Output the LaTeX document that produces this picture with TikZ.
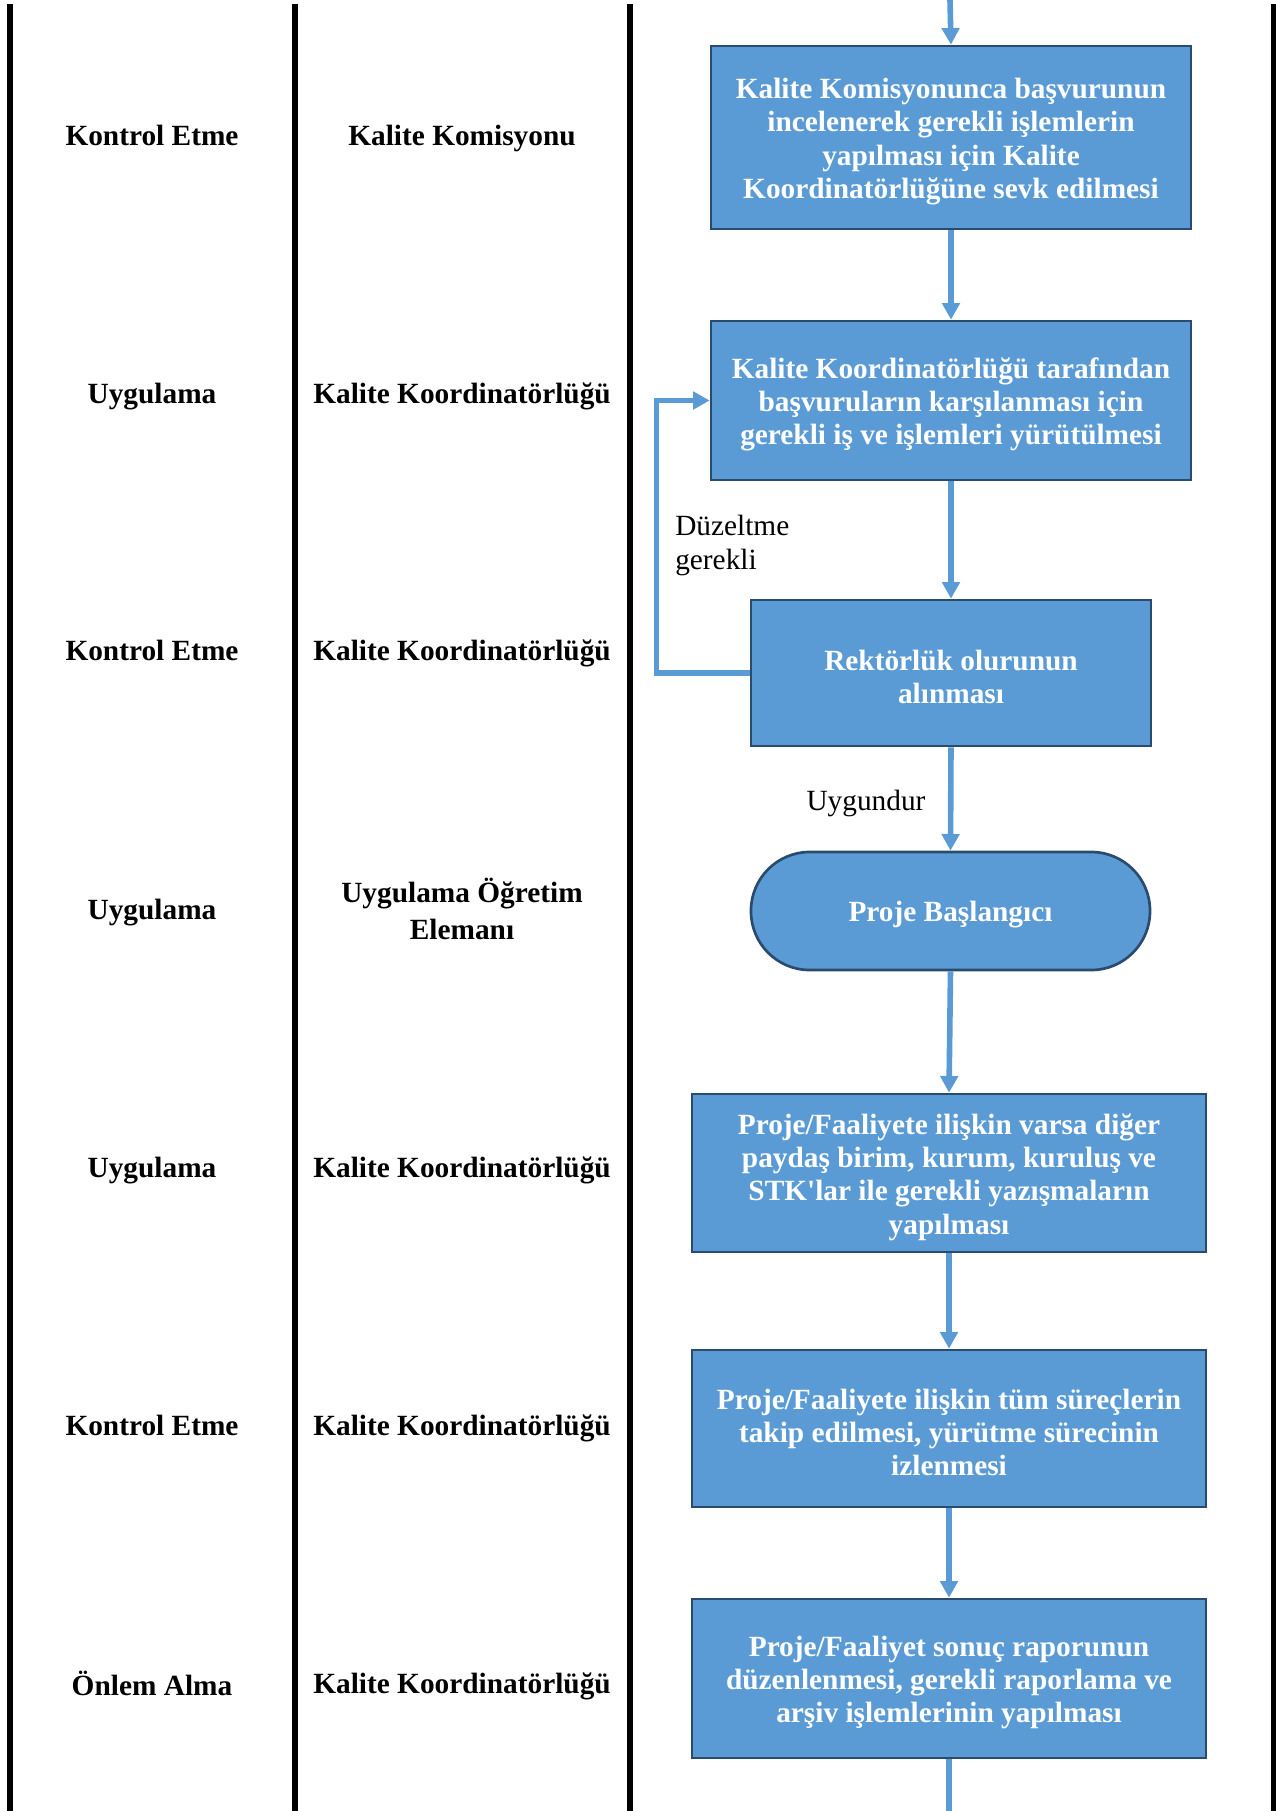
\documentclass[tikz,border=0pt]{standalone}
\usepackage{fontspec}
\setmainfont{Liberation Serif}
\usetikzlibrary{arrows.meta}
\definecolor{boxblue}{HTML}{5B9BD5}
\definecolor{boxedge}{HTML}{2A4A6E}
\begin{document}
\begin{tikzpicture}[x=0.75pt,y=-0.75pt,
  lane/.style={line width=4.5pt,black},
  procbox/.style={draw=boxedge,line width=2pt,fill=boxblue,inner sep=0pt},
  boxtext/.style={text=white,font=\fontsize{22}{25}\selectfont\bfseries,
    align=center,inner sep=0pt,yshift=-3pt},
  flow/.style={draw=boxblue,line width=4.2pt,-{Triangle[length=12.5pt,width=13pt]}},
  flowline/.style={draw=boxblue,line width=4.2pt},
  lbl/.style={font=\fontsize{22}{25}\selectfont\bfseries,align=center,
    text depth=0pt},
  elbl/.style={font=\fontsize{22}{25}\selectfont,align=left,inner sep=0pt}]
\useasboundingbox (0,0) rectangle (1276,1811);

% lane separators
\draw[lane] (10,4) -- (10,1811);
\draw[lane] (294.5,4) -- (294.5,1811);
\draw[lane] (629.5,4) -- (629.5,1811);
\draw[lane] (1273.5,4) -- (1273.5,1811);

% left column labels
\node[lbl] (s1) at (152,135) {Kontrol Etme};
\node[lbl] (s2) at (152,393) {Uygulama};
\node[lbl] (s3) at (152,650) {Kontrol Etme};
\node[lbl] (s4) at (152,909) {Uygulama};
\node[lbl] (s5) at (152,1167) {Uygulama};
\node[lbl] (s6) at (152,1425) {Kontrol Etme};
\node[lbl] (s7) at (152,1683) {Önlem Alma};

\node[lbl] (r1) at (462,135) {Kalite Komisyonu};
\node[lbl] (r2) at (462,393) {Kalite Koordinatörlüğü};
\node[lbl] (r3) at (462,650) {Kalite Koordinatörlüğü};
\node[lbl,text depth=] (r4) at (462,909) {Uygulama Öğretim\\[2.5pt]Elemanı};
\node[lbl] (r5) at (462,1167) {Kalite Koordinatörlüğü};
\node[lbl] (r6) at (462,1425) {Kalite Koordinatörlüğü};
\node[lbl] (r7) at (462,1683) {Kalite Koordinatörlüğü};

% process boxes
\node[procbox,minimum width=360pt,minimum height=137.25pt,
  label={[boxtext]center:{Kalite Komisyonunca başvurunun\\incelenerek gerekli işlemlerin\\yapılması için Kalite\\Koordinatörlüğüne sevk edilmesi}}]
  (b1) at (951,137.5) {};
\node[procbox,minimum width=360pt,minimum height=119.25pt,
  label={[boxtext]center:{Kalite Koordinatörlüğü tarafından\\başvuruların karşılanması için\\gerekli iş ve işlemleri yürütülmesi}}]
  (b2) at (951,400.5) {};
\node[procbox,minimum width=300pt,minimum height=109.5pt,
  label={[boxtext]center:{Rektörlük olurunun\\alınması}}]
  (b3) at (951,673) {};
\node[procbox,minimum width=299.25pt,minimum height=88.5pt,rounded corners=44pt,
  label={[boxtext]center:{Proje Başlangıcı}}]
  (t1) at (950.5,911) {};
\node[procbox,minimum width=385.5pt,minimum height=118.5pt,
  label={[boxtext]center:{Proje/Faaliyete ilişkin varsa diğer\\paydaş birim, kurum, kuruluş ve\\STK\textquotesingle lar ile gerekli yazışmaların\\yapılması}}]
  (b4) at (949,1173) {};
\node[procbox,minimum width=385.5pt,minimum height=117.75pt,
  label={[boxtext]center:{Proje/Faaliyete ilişkin tüm süreçlerin\\takip edilmesi, yürütme sürecinin\\izlenmesi}}]
  (b5) at (949,1428.5) {};
\node[procbox,minimum width=385.5pt,minimum height=119.25pt,
  label={[boxtext]center:{Proje/Faaliyet sonuç raporunun\\düzenlenmesi, gerekli raporlama ve\\arşiv işlemlerinin yapılması}}]
  (b6) at (949,1678.5) {};

% connectors
\coordinate (topin) at (950,0);
\coordinate (botout) at (949,1811);
\draw[flow] (topin) -- (b1.north);
\draw[flow] (b1.south) -- (b2.north);
\draw[flow] (b2.south) -- (b3.north);
\draw[flow] (b3.south) -- (t1.north);
\draw[flow] (t1.south) -- (b4.north);
\draw[flow] (b4.south) -- (b5.north);
\draw[flow] (b5.south) -- (b6.north);
\draw[flowline] (b6.south) -- (botout);
\draw[flow] (b3.west) -- ++(-93,0) |- (b2.west);

% edge labels
\node[elbl,anchor=west] (e1) at (675,545.5) {Düzeltme\\gerekli};
\node[elbl] (e2) at (866,803.5) {Uygundur};
\end{tikzpicture}
\end{document}
